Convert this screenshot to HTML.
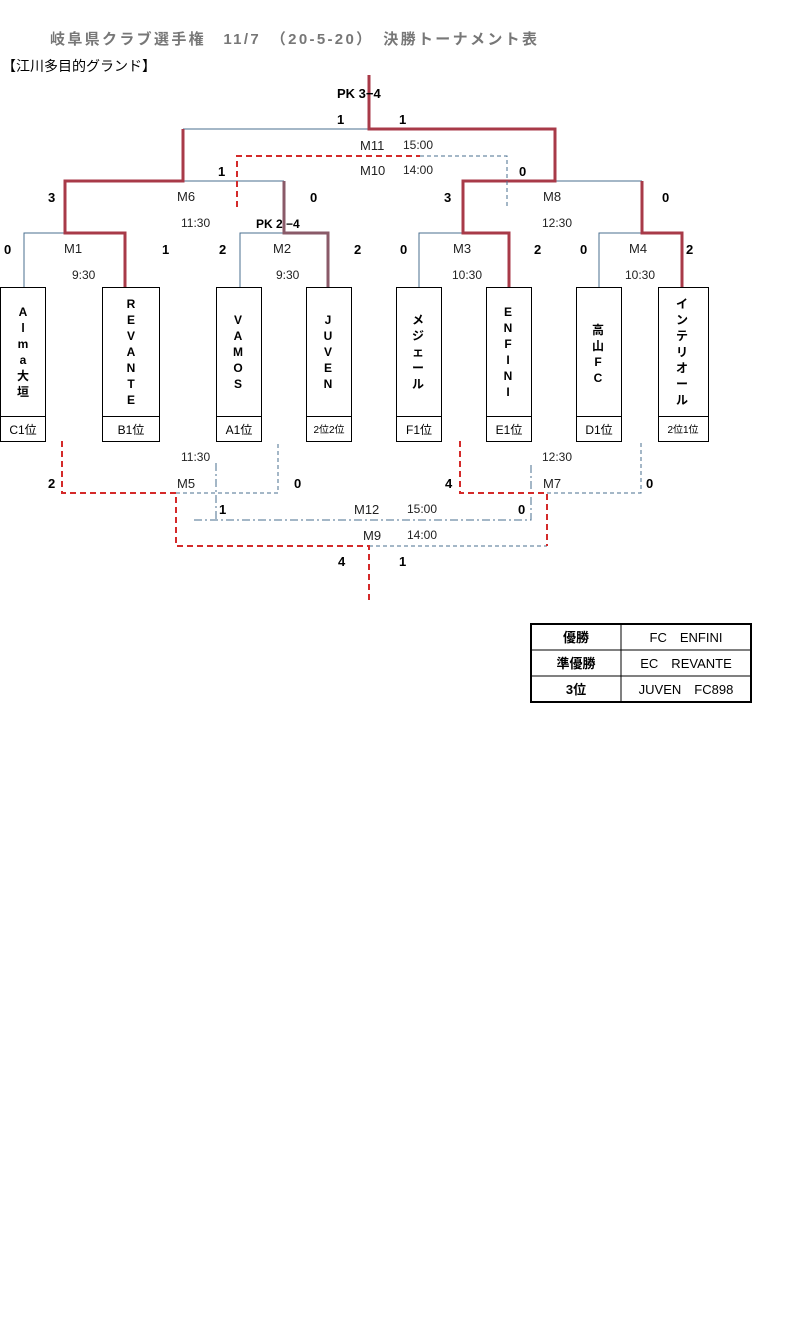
<!DOCTYPE html>
<html><head><meta charset="utf-8"><style>
html,body{margin:0;padding:0;background:#fff;}
svg text{font-family:"Liberation Sans","Noto Sans CJK JP",sans-serif;}
</style></head><body>
<svg width="795" height="1338" viewBox="0 0 795 1338" xmlns="http://www.w3.org/2000/svg">
<rect width="795" height="1338" fill="#fff"/>
<text x="50" y="44" font-size="15" font-weight="bold" fill="#777" textLength="487" lengthAdjust="spacing">岐阜県クラブ選手権　11/7　（20-5-20）　決勝トーナメント表</text>
<text x="2" y="71" font-size="14" fill="#000">【江川多目的グランド】</text>

<g stroke="#4a6f8f" stroke-width="1" fill="none">
<path d="M183 129H369"/>
<path d="M183 181H284"/>
<path d="M555 181H642"/>
<path d="M24 287V233H65"/>
<path d="M240 287V233H284"/>
<path d="M419 287V233H463"/>
<path d="M599 287V233H642"/>
</g>
<g stroke="#a83a48" stroke-width="3" fill="none">
<path d="M369 75V129H555V181H463V233H509V287"/>
<path d="M642 181V233H682V287"/>
<path d="M183 129V181H65V233H125V287"/>
<path d="M284 181V233H328V287" stroke="#8a5a68"/>
</g>
<path d="M237 207V156H420" stroke="#d42a2a" stroke-width="2" stroke-dasharray="6,4" fill="none"/>
<path d="M420 156H507V207" stroke="#4a6f8f" stroke-width="1" stroke-dasharray="4,3" fill="none"/>

<g stroke="#4a6f8f" stroke-width="1" fill="none" stroke-dasharray="4,3">
<path d="M176 493H278V441"/>
<path d="M547 493H641V441"/>
<path d="M369 546H547"/>
</g>
<g stroke="#4a6f8f" stroke-width="1" fill="none" stroke-dasharray="8,3,2,3">
<path d="M194 520H531V463"/>
<path d="M216 463V520"/>
</g>
<g stroke="#d42a2a" stroke-width="2" fill="none" stroke-dasharray="6,4">
<path d="M62 441V493H176V546H369V600"/>
<path d="M460 441V493H547V546"/>
</g>

<g stroke="#000" stroke-width="1" fill="#fff">
<rect x="0.5" y="287.5" width="45" height="154"/>
<rect x="102.5" y="287.5" width="57" height="154"/>
<rect x="216.5" y="287.5" width="45" height="154"/>
<rect x="306.5" y="287.5" width="45" height="154"/>
<rect x="396.5" y="287.5" width="45" height="154"/>
<rect x="486.5" y="287.5" width="45" height="154"/>
<rect x="576.5" y="287.5" width="45" height="154"/>
<rect x="658.5" y="287.5" width="50" height="154"/>
<path d="M0 416.5H46M102 416.5H160M216 416.5H262M306 416.5H352M396 416.5H442M486 416.5H532M576 416.5H622M658 416.5H709"/>
</g>
<g font-size="12" font-weight="bold" text-anchor="middle" fill="#000">
<text x="23" y="316">A</text><text x="23" y="332">l</text><text x="23" y="348">m</text><text x="23" y="364">a</text><text x="23" y="380">大</text><text x="23" y="396">垣</text>
<text x="131" y="308">R</text><text x="131" y="324">E</text><text x="131" y="340">V</text><text x="131" y="356">A</text><text x="131" y="372">N</text><text x="131" y="388">T</text><text x="131" y="404">E</text>
<text x="238" y="324">V</text><text x="238" y="340">A</text><text x="238" y="356">M</text><text x="238" y="372">O</text><text x="238" y="388">S</text>
<text x="328" y="324">J</text><text x="328" y="340">U</text><text x="328" y="356">V</text><text x="328" y="372">E</text><text x="328" y="388">N</text>
<text x="418" y="324">メ</text><text x="418" y="340">ジ</text><text x="418" y="356">ェ</text><text x="418" y="372">ー</text><text x="418" y="388">ル</text>
<text x="508" y="316">E</text><text x="508" y="332">N</text><text x="508" y="348">F</text><text x="508" y="364">I</text><text x="508" y="380">N</text><text x="508" y="396">I</text>
<text x="598" y="334">高</text><text x="598" y="350">山</text><text x="598" y="366">F</text><text x="598" y="382">C</text>
<text x="682" y="308">イ</text><text x="682" y="324">ン</text><text x="682" y="340">テ</text><text x="682" y="356">リ</text><text x="682" y="372">オ</text><text x="682" y="388">ー</text><text x="682" y="404">ル</text>
</g>
<g font-size="12" text-anchor="middle" fill="#000">
<text x="23" y="434">C1位</text><text x="131" y="434">B1位</text><text x="239" y="434">A1位</text>
<text x="329" y="433" font-size="10">2位2位</text>
<text x="419" y="434">F1位</text><text x="509" y="434">E1位</text><text x="599" y="434">D1位</text>
<text x="683" y="433" font-size="10">2位1位</text>
</g>

<g font-size="13" fill="#222">
<text x="360" y="150">M11</text><text x="403" y="149" font-size="12">15:00</text>
<text x="360" y="175">M10</text><text x="403" y="174" font-size="12">14:00</text>
<text x="177" y="201">M6</text><text x="543" y="201">M8</text>
<text x="181" y="227" font-size="12">11:30</text><text x="542" y="227" font-size="12">12:30</text>
<text x="64" y="253">M1</text><text x="273" y="253">M2</text><text x="453" y="253">M3</text><text x="629" y="253">M4</text>
<text x="72" y="279" font-size="12">9:30</text><text x="276" y="279" font-size="12">9:30</text>
<text x="452" y="279" font-size="12">10:30</text><text x="625" y="279" font-size="12">10:30</text>
<text x="181" y="461" font-size="12">11:30</text><text x="542" y="461" font-size="12">12:30</text>
<text x="177" y="488">M5</text><text x="543" y="488">M7</text>
<text x="354" y="514">M12</text><text x="407" y="513" font-size="12">15:00</text>
<text x="363" y="540">M9</text><text x="407" y="539" font-size="12">14:00</text>
</g>
<g font-size="13" font-weight="bold" fill="#000">
<text x="337" y="98">PK 3−4</text>
<text x="337" y="124">1</text><text x="399" y="124">1</text>
<text x="218" y="176">1</text><text x="519" y="176">0</text>
<text x="48" y="202">3</text><text x="310" y="202">0</text><text x="444" y="202">3</text><text x="662" y="202">0</text>
<text x="256" y="228" font-size="12">PK 2 −4</text>
<text x="4" y="254">0</text><text x="162" y="254">1</text><text x="219" y="254">2</text><text x="354" y="254">2</text>
<text x="400" y="254">0</text><text x="534" y="254">2</text><text x="580" y="254">0</text><text x="686" y="254">2</text>
<text x="48" y="488">2</text><text x="294" y="488">0</text><text x="445" y="488">4</text><text x="646" y="488">0</text>
<text x="219" y="514">1</text><text x="518" y="514">0</text>
<text x="338" y="566">4</text><text x="399" y="566">1</text>
</g>

<g stroke="#000" fill="none">
<rect x="531" y="624" width="220" height="78" stroke-width="2"/>
<path d="M531 650H751M531 676H751M621 624V702" stroke-width="1"/>
</g>
<g font-size="13" text-anchor="middle" fill="#000">
<text x="576" y="642" font-weight="bold">優勝</text><text x="686" y="642">FC　ENFINI</text>
<text x="576" y="668" font-weight="bold">準優勝</text><text x="686" y="668">EC　REVANTE</text>
<text x="576" y="694" font-weight="bold">3位</text><text x="686" y="694">JUVEN　FC898</text>
</g>
</svg>
</body></html>
